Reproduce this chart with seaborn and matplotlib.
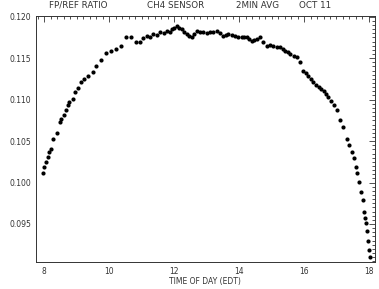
import numpy as np
import pandas as pd
import matplotlib
matplotlib.use("Agg")
import matplotlib.pyplot as plt
import seaborn as sns
from matplotlib.ticker import MultipleLocator

# time of day (hours, EDT) and FP/REF ratio
hours = [7.96, 8.01, 8.06, 8.11, 8.16, 8.22, 8.27, 8.39, 8.49, 8.53,
         8.62, 8.68, 8.73, 8.78, 8.88, 8.96, 9.04, 9.14, 9.24, 9.34,
         9.50, 9.60, 9.75, 9.91, 10.06, 10.22, 10.37, 10.52, 10.68, 10.83,
         10.95, 11.05, 11.16, 11.26, 11.36, 11.47, 11.57, 11.68, 11.78, 11.86,
         11.93, 12.01, 12.08, 12.16, 12.24, 12.31, 12.39, 12.47, 12.54, 12.62,
         12.70, 12.80, 12.90, 13.00, 13.10, 13.20, 13.31, 13.41, 13.51, 13.59,
         13.67, 13.78, 13.88, 13.98, 14.08, 14.16, 14.24, 14.31, 14.39, 14.47,
         14.55, 14.65, 14.75, 14.85, 14.95, 15.06, 15.16, 15.26, 15.34, 15.42,
         15.50, 15.57, 15.68, 15.78, 15.88, 15.98, 16.06, 16.13, 16.21, 16.29,
         16.37, 16.45, 16.52, 16.60, 16.68, 16.75, 16.83, 16.91, 17.01, 17.11,
         17.21, 17.32, 17.39, 17.47, 17.54, 17.60, 17.64, 17.70, 17.75, 17.81,
         17.85, 17.88, 17.91, 17.93, 17.96, 18.00, 18.03]
ratio = [0.1011, 0.1019, 0.1025, 0.1031, 0.1037, 0.1041, 0.1053, 0.1060, 0.1073, 0.1077,
         0.1081, 0.1087, 0.1093, 0.1097, 0.1101, 0.1109, 0.1114, 0.1121, 0.1125, 0.1129,
         0.1133, 0.1141, 0.1148, 0.1156, 0.1159, 0.1161, 0.1165, 0.1175, 0.1176, 0.1169,
         0.1169, 0.1174, 0.1177, 0.1176, 0.1179, 0.1178, 0.1181, 0.1180, 0.1183, 0.1182,
         0.1185, 0.1186, 0.1189, 0.1187, 0.1185, 0.1182, 0.1179, 0.1177, 0.1175, 0.1179,
         0.1183, 0.1182, 0.1181, 0.1180, 0.1181, 0.1182, 0.1183, 0.1180, 0.1177, 0.1178,
         0.1179, 0.1178, 0.1177, 0.1176, 0.1175, 0.1176, 0.1175, 0.1173, 0.1171, 0.1172,
         0.1173, 0.1175, 0.1170, 0.1165, 0.1166, 0.1165, 0.1164, 0.1163, 0.1161, 0.1159,
         0.1157, 0.1155, 0.1153, 0.1151, 0.1145, 0.1135, 0.1132, 0.1129, 0.1125, 0.1121,
         0.1118, 0.1115, 0.1113, 0.1111, 0.1107, 0.1103, 0.1098, 0.1093, 0.1087, 0.1075,
         0.1067, 0.1053, 0.1045, 0.1037, 0.1029, 0.1019, 0.1011, 0.1001, 0.0989, 0.0979,
         0.0965, 0.0957, 0.0951, 0.0941, 0.0929, 0.0919, 0.0910]

x_ticks = [8, 10, 12, 14, 16, 18]
y_ticks = [0.095, 0.100, 0.105, 0.110, 0.115, 0.120]
y_tick_labels = ["0.095", "0.100", "0.105", "0.110", "0.115", "0.120"]
title_parts = ["FP/REF RATIO", "CH4 SENSOR", "2MIN AVG", "OCT 11"]

df = pd.DataFrame({"hour": hours, "ratio": ratio})

sns.set_style("white")
plt.rcParams['font.family'] = ['DejaVu Sans']

fig = plt.figure(figsize=(3.79, 2.89), dpi=100)
ax = fig.add_axes([0.095, 0.093, 0.894, 0.852])

sns.scatterplot(data=df, x="hour", y="ratio", ax=ax, color="black",
                marker="o", s=9, linewidth=0, legend=False)

ax.set_xlim(7.75, 18.18)
ax.set_ylim(0.0904, 0.1201)
ax.set_xticks(x_ticks)
ax.set_xticklabels([str(t) for t in x_ticks])
ax.set_yticks(y_ticks)
ax.set_yticklabels(y_tick_labels)
ax.xaxis.set_minor_locator(MultipleLocator(0.2))
ax.yaxis.set_minor_locator(MultipleLocator(0.0005))
ax.tick_params(which="both", direction="in", top=True, right=True,
               colors="#333333", labelsize=5.5, width=0.6)
ax.tick_params(which="major", length=4)
ax.tick_params(which="minor", length=2)
for sp in ax.spines.values():
    sp.set_linewidth(0.7)
    sp.set_color("#333333")

ax.set_xlabel("TIME OF DAY (EDT)", fontsize=5.5, color="#333333", labelpad=1)
ax.set_ylabel("")
for part, xc in zip(title_parts, [78, 176, 257, 315]):
    fig.text(xc / 379, 0.982, part, ha="center", va="center",
             fontsize=6.3, color="#333333")

fig.savefig("out.png", dpi=100)
